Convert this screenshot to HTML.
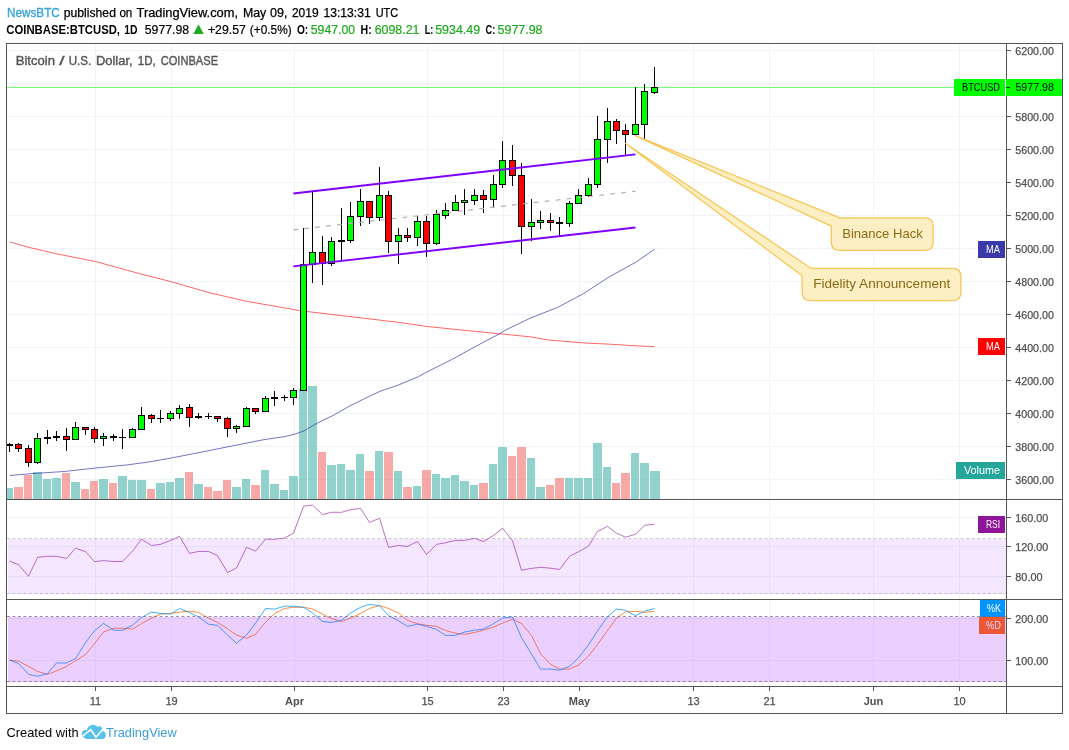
<!DOCTYPE html>
<html><head><meta charset="utf-8"><title>BTCUSD</title>
<style>html,body{margin:0;padding:0;background:#fff;}body{width:1069px;height:750px;overflow:hidden;}svg{display:block;will-change:transform;}text{font-family:"Liberation Sans", sans-serif;}</style>
</head><body>
<svg width="1069" height="750" viewBox="0 0 1069 750">
<rect x="0" y="0" width="1069" height="750" fill="#fff"/>
<g shape-rendering="crispEdges" stroke="#eff4f8" stroke-width="1">
<line x1="95.5" y1="44" x2="95.5" y2="686"/>
<line x1="171.5" y1="44" x2="171.5" y2="686"/>
<line x1="294.5" y1="44" x2="294.5" y2="686"/>
<line x1="427.5" y1="44" x2="427.5" y2="686"/>
<line x1="503.5" y1="44" x2="503.5" y2="686"/>
<line x1="579.5" y1="44" x2="579.5" y2="686"/>
<line x1="693.5" y1="44" x2="693.5" y2="686"/>
<line x1="769.5" y1="44" x2="769.5" y2="686"/>
<line x1="873.5" y1="44" x2="873.5" y2="686"/>
<line x1="959.5" y1="44" x2="959.5" y2="686"/>
<line x1="7" y1="50.5" x2="1006" y2="50.5"/>
<line x1="7" y1="83.5" x2="1006" y2="83.5"/>
<line x1="7" y1="116.5" x2="1006" y2="116.5"/>
<line x1="7" y1="149.5" x2="1006" y2="149.5"/>
<line x1="7" y1="182.5" x2="1006" y2="182.5"/>
<line x1="7" y1="215.5" x2="1006" y2="215.5"/>
<line x1="7" y1="248.5" x2="1006" y2="248.5"/>
<line x1="7" y1="281.5" x2="1006" y2="281.5"/>
<line x1="7" y1="314.5" x2="1006" y2="314.5"/>
<line x1="7" y1="347.5" x2="1006" y2="347.5"/>
<line x1="7" y1="380.5" x2="1006" y2="380.5"/>
<line x1="7" y1="413.5" x2="1006" y2="413.5"/>
<line x1="7" y1="446.5" x2="1006" y2="446.5"/>
<line x1="7" y1="479.5" x2="1006" y2="479.5"/>
<line x1="7" y1="517.5" x2="1006" y2="517.5"/>
<line x1="7" y1="546.5" x2="1006" y2="546.5"/>
<line x1="7" y1="576.5" x2="1006" y2="576.5"/>
<line x1="7" y1="618.5" x2="1006" y2="618.5"/>
<line x1="7" y1="660.5" x2="1006" y2="660.5"/>
</g>
<g shape-rendering="crispEdges">
<rect x="7" y="488" width="6" height="11" fill="#26a69a" fill-opacity="0.5"/>
<rect x="14" y="487" width="9" height="12" fill="#ef5350" fill-opacity="0.5"/>
<rect x="24" y="475" width="8" height="24" fill="#ef5350" fill-opacity="0.5"/>
<rect x="33" y="472" width="9" height="27" fill="#26a69a" fill-opacity="0.5"/>
<rect x="43" y="479" width="8" height="20" fill="#26a69a" fill-opacity="0.5"/>
<rect x="52" y="478" width="9" height="21" fill="#26a69a" fill-opacity="0.5"/>
<rect x="62" y="473" width="8" height="26" fill="#ef5350" fill-opacity="0.5"/>
<rect x="71" y="482" width="9" height="17" fill="#26a69a" fill-opacity="0.5"/>
<rect x="81" y="489" width="8" height="10" fill="#ef5350" fill-opacity="0.5"/>
<rect x="90" y="481" width="8" height="18" fill="#ef5350" fill-opacity="0.5"/>
<rect x="99" y="479" width="9" height="20" fill="#26a69a" fill-opacity="0.5"/>
<rect x="109" y="483" width="8" height="16" fill="#ef5350" fill-opacity="0.5"/>
<rect x="118" y="476" width="9" height="23" fill="#26a69a" fill-opacity="0.5"/>
<rect x="128" y="480" width="8" height="19" fill="#26a69a" fill-opacity="0.5"/>
<rect x="137" y="480" width="9" height="19" fill="#26a69a" fill-opacity="0.5"/>
<rect x="147" y="489" width="8" height="10" fill="#ef5350" fill-opacity="0.5"/>
<rect x="156" y="483" width="9" height="16" fill="#26a69a" fill-opacity="0.5"/>
<rect x="166" y="482" width="8" height="17" fill="#26a69a" fill-opacity="0.5"/>
<rect x="175" y="478" width="9" height="21" fill="#26a69a" fill-opacity="0.5"/>
<rect x="185" y="472" width="8" height="27" fill="#ef5350" fill-opacity="0.5"/>
<rect x="194" y="484" width="9" height="15" fill="#26a69a" fill-opacity="0.5"/>
<rect x="204" y="487" width="8" height="12" fill="#ef5350" fill-opacity="0.5"/>
<rect x="213" y="491" width="9" height="8" fill="#ef5350" fill-opacity="0.5"/>
<rect x="223" y="480" width="8" height="19" fill="#ef5350" fill-opacity="0.5"/>
<rect x="232" y="487" width="9" height="12" fill="#26a69a" fill-opacity="0.5"/>
<rect x="242" y="479" width="8" height="20" fill="#26a69a" fill-opacity="0.5"/>
<rect x="251" y="485" width="9" height="14" fill="#ef5350" fill-opacity="0.5"/>
<rect x="261" y="470" width="8" height="29" fill="#26a69a" fill-opacity="0.5"/>
<rect x="270" y="484" width="9" height="15" fill="#26a69a" fill-opacity="0.5"/>
<rect x="280" y="490" width="8" height="9" fill="#26a69a" fill-opacity="0.5"/>
<rect x="289" y="476" width="9" height="23" fill="#26a69a" fill-opacity="0.5"/>
<rect x="299" y="389" width="8" height="110" fill="#26a69a" fill-opacity="0.5"/>
<rect x="308" y="386" width="9" height="113" fill="#26a69a" fill-opacity="0.5"/>
<rect x="318" y="452" width="8" height="47" fill="#ef5350" fill-opacity="0.5"/>
<rect x="327" y="465" width="9" height="34" fill="#26a69a" fill-opacity="0.5"/>
<rect x="337" y="464" width="8" height="35" fill="#26a69a" fill-opacity="0.5"/>
<rect x="346" y="470" width="9" height="29" fill="#26a69a" fill-opacity="0.5"/>
<rect x="356" y="454" width="8" height="45" fill="#26a69a" fill-opacity="0.5"/>
<rect x="365" y="471" width="9" height="28" fill="#ef5350" fill-opacity="0.5"/>
<rect x="375" y="451" width="8" height="48" fill="#26a69a" fill-opacity="0.5"/>
<rect x="384" y="452" width="9" height="47" fill="#ef5350" fill-opacity="0.5"/>
<rect x="394" y="471" width="8" height="28" fill="#26a69a" fill-opacity="0.5"/>
<rect x="403" y="487" width="9" height="12" fill="#ef5350" fill-opacity="0.5"/>
<rect x="413" y="486" width="8" height="13" fill="#26a69a" fill-opacity="0.5"/>
<rect x="422" y="470" width="9" height="29" fill="#ef5350" fill-opacity="0.5"/>
<rect x="432" y="474" width="8" height="25" fill="#26a69a" fill-opacity="0.5"/>
<rect x="441" y="478" width="9" height="21" fill="#26a69a" fill-opacity="0.5"/>
<rect x="451" y="475" width="8" height="24" fill="#26a69a" fill-opacity="0.5"/>
<rect x="460" y="481" width="9" height="18" fill="#26a69a" fill-opacity="0.5"/>
<rect x="470" y="485" width="8" height="14" fill="#26a69a" fill-opacity="0.5"/>
<rect x="479" y="483" width="9" height="16" fill="#ef5350" fill-opacity="0.5"/>
<rect x="489" y="464" width="8" height="35" fill="#26a69a" fill-opacity="0.5"/>
<rect x="498" y="447" width="9" height="52" fill="#26a69a" fill-opacity="0.5"/>
<rect x="508" y="456" width="8" height="43" fill="#ef5350" fill-opacity="0.5"/>
<rect x="517" y="447" width="9" height="52" fill="#ef5350" fill-opacity="0.5"/>
<rect x="527" y="458" width="8" height="41" fill="#26a69a" fill-opacity="0.5"/>
<rect x="536" y="487" width="9" height="12" fill="#26a69a" fill-opacity="0.5"/>
<rect x="546" y="485" width="8" height="14" fill="#ef5350" fill-opacity="0.5"/>
<rect x="555" y="478" width="9" height="21" fill="#ef5350" fill-opacity="0.5"/>
<rect x="565" y="478" width="8" height="21" fill="#26a69a" fill-opacity="0.5"/>
<rect x="574" y="478" width="9" height="21" fill="#26a69a" fill-opacity="0.5"/>
<rect x="584" y="478" width="8" height="21" fill="#26a69a" fill-opacity="0.5"/>
<rect x="593" y="443" width="9" height="56" fill="#26a69a" fill-opacity="0.5"/>
<rect x="603" y="467" width="8" height="32" fill="#26a69a" fill-opacity="0.5"/>
<rect x="612" y="483" width="8" height="16" fill="#ef5350" fill-opacity="0.5"/>
<rect x="621" y="473" width="9" height="26" fill="#ef5350" fill-opacity="0.5"/>
<rect x="631" y="453" width="8" height="46" fill="#26a69a" fill-opacity="0.5"/>
<rect x="640" y="463" width="9" height="36" fill="#26a69a" fill-opacity="0.5"/>
<rect x="650" y="471" width="10" height="28" fill="#26a69a" fill-opacity="0.5"/>
</g>
<polyline fill="none" stroke="#ff0000" stroke-width="1" stroke-linejoin="round" stroke-opacity="0.6" points="9.8,241.9 28.0,247.2 56.1,253.7 95.4,261.5 140.3,273.9 171.2,281.7 210.5,293.0 247.0,301.4 275.0,306.2 300.0,310.7 400.0,322.5 426.2,326.4 452.4,329.1 478.6,331.7 499.5,333.8 531.0,336.9 549.3,340.1 583.3,342.9 609.5,344.2 635.7,345.8 654.6,346.6"/>
<polyline fill="none" stroke="#3939ab" stroke-width="1" stroke-linejoin="round" stroke-opacity="0.7" points="9.6,475.5 32.0,473.6 64.0,471.5 96.0,468.0 128.0,464.8 150.0,461.8 170.8,458.1 198.0,452.8 230.0,446.4 262.0,440.0 285.0,436.5 294.0,434.4 304.0,430.9 317.0,423.2 333.0,415.5 349.0,406.4 365.0,398.4 381.0,390.9 397.0,385.6 409.0,380.6 418.3,376.7 426.2,372.3 452.4,359.2 478.6,344.8 499.5,333.8 504.8,330.4 531.0,317.8 557.2,307.6 583.3,293.7 609.5,276.7 635.7,262.3 654.6,249.2"/>
<line x1="7" y1="87.5" x2="1006" y2="87.5" stroke="#00ff00" stroke-opacity="0.55" stroke-width="1" shape-rendering="crispEdges"/>
<g shape-rendering="crispEdges">
<rect x="9" y="443" width="1" height="9" fill="#000"/>
<rect x="7" y="444" width="6" height="2" fill="#000"/>
<rect x="18" y="443" width="1" height="9" fill="#000"/>
<rect x="15" y="444" width="7" height="5" fill="#000"/>
<rect x="16" y="445" width="5" height="3" fill="#ff0000"/>
<rect x="28" y="445" width="1" height="22" fill="#000"/>
<rect x="25" y="448" width="7" height="15" fill="#000"/>
<rect x="26" y="449" width="5" height="13" fill="#ff0000"/>
<rect x="37" y="433" width="1" height="31" fill="#000"/>
<rect x="34" y="438" width="7" height="25" fill="#000"/>
<rect x="35" y="439" width="5" height="23" fill="#00ff00"/>
<rect x="47" y="430" width="1" height="14" fill="#000"/>
<rect x="44" y="437" width="7" height="2" fill="#000"/>
<rect x="56" y="431" width="1" height="10" fill="#000"/>
<rect x="53" y="436" width="7" height="2" fill="#000"/>
<rect x="66" y="428" width="1" height="23" fill="#000"/>
<rect x="63" y="436" width="7" height="4" fill="#000"/>
<rect x="64" y="437" width="5" height="2" fill="#ff0000"/>
<rect x="75" y="422" width="1" height="18" fill="#000"/>
<rect x="72" y="427" width="7" height="13" fill="#000"/>
<rect x="73" y="428" width="5" height="11" fill="#00ff00"/>
<rect x="85" y="427" width="1" height="8" fill="#000"/>
<rect x="82" y="427" width="7" height="3" fill="#000"/>
<rect x="83" y="428" width="5" height="1" fill="#ff0000"/>
<rect x="94" y="427" width="1" height="16" fill="#000"/>
<rect x="91" y="429" width="7" height="10" fill="#000"/>
<rect x="92" y="430" width="5" height="8" fill="#ff0000"/>
<rect x="103" y="433" width="1" height="13" fill="#000"/>
<rect x="100" y="436" width="7" height="3" fill="#000"/>
<rect x="101" y="437" width="5" height="1" fill="#00ff00"/>
<rect x="113" y="434" width="1" height="7" fill="#000"/>
<rect x="110" y="436" width="7" height="2" fill="#000"/>
<rect x="122" y="429" width="1" height="20" fill="#000"/>
<rect x="119" y="437" width="7" height="1" fill="#000"/>
<rect x="132" y="428" width="1" height="10" fill="#000"/>
<rect x="129" y="429" width="7" height="9" fill="#000"/>
<rect x="130" y="430" width="5" height="7" fill="#00ff00"/>
<rect x="141" y="407" width="1" height="23" fill="#000"/>
<rect x="138" y="415" width="7" height="15" fill="#000"/>
<rect x="139" y="416" width="5" height="13" fill="#00ff00"/>
<rect x="151" y="414" width="1" height="9" fill="#000"/>
<rect x="148" y="415" width="7" height="4" fill="#000"/>
<rect x="149" y="416" width="5" height="2" fill="#ff0000"/>
<rect x="160" y="410" width="1" height="13" fill="#000"/>
<rect x="157" y="418" width="7" height="1" fill="#000"/>
<rect x="170" y="411" width="1" height="10" fill="#000"/>
<rect x="167" y="413" width="7" height="6" fill="#000"/>
<rect x="168" y="414" width="5" height="4" fill="#00ff00"/>
<rect x="179" y="405" width="1" height="14" fill="#000"/>
<rect x="176" y="408" width="7" height="6" fill="#000"/>
<rect x="177" y="409" width="5" height="4" fill="#00ff00"/>
<rect x="189" y="404" width="1" height="23" fill="#000"/>
<rect x="186" y="407" width="7" height="11" fill="#000"/>
<rect x="187" y="408" width="5" height="9" fill="#ff0000"/>
<rect x="198" y="413" width="1" height="6" fill="#000"/>
<rect x="195" y="416" width="7" height="2" fill="#000"/>
<rect x="208" y="413" width="1" height="6" fill="#000"/>
<rect x="205" y="416" width="7" height="1" fill="#000"/>
<rect x="217" y="416" width="1" height="6" fill="#000"/>
<rect x="214" y="416" width="7" height="3" fill="#000"/>
<rect x="215" y="417" width="5" height="1" fill="#ff0000"/>
<rect x="227" y="417" width="1" height="20" fill="#000"/>
<rect x="224" y="418" width="7" height="11" fill="#000"/>
<rect x="225" y="419" width="5" height="9" fill="#ff0000"/>
<rect x="236" y="425" width="1" height="8" fill="#000"/>
<rect x="233" y="426" width="7" height="3" fill="#000"/>
<rect x="234" y="427" width="5" height="1" fill="#00ff00"/>
<rect x="246" y="407" width="1" height="20" fill="#000"/>
<rect x="243" y="408" width="7" height="19" fill="#000"/>
<rect x="244" y="409" width="5" height="17" fill="#00ff00"/>
<rect x="255" y="408" width="1" height="6" fill="#000"/>
<rect x="252" y="408" width="7" height="4" fill="#000"/>
<rect x="253" y="409" width="5" height="2" fill="#ff0000"/>
<rect x="265" y="396" width="1" height="16" fill="#000"/>
<rect x="262" y="398" width="7" height="14" fill="#000"/>
<rect x="263" y="399" width="5" height="12" fill="#00ff00"/>
<rect x="274" y="391" width="1" height="15" fill="#000"/>
<rect x="271" y="397" width="7" height="2" fill="#000"/>
<rect x="284" y="395" width="1" height="6" fill="#000"/>
<rect x="281" y="397" width="7" height="1" fill="#000"/>
<rect x="293" y="388" width="1" height="17" fill="#000"/>
<rect x="290" y="390" width="7" height="8" fill="#000"/>
<rect x="291" y="391" width="5" height="6" fill="#00ff00"/>
<rect x="303" y="228" width="1" height="163" fill="#000"/>
<rect x="300" y="264" width="7" height="127" fill="#000"/>
<rect x="301" y="265" width="5" height="125" fill="#00ff00"/>
<rect x="312" y="192" width="1" height="91" fill="#000"/>
<rect x="309" y="252" width="7" height="13" fill="#000"/>
<rect x="310" y="253" width="5" height="11" fill="#00ff00"/>
<rect x="322" y="236" width="1" height="49" fill="#000"/>
<rect x="319" y="252" width="7" height="12" fill="#000"/>
<rect x="320" y="253" width="5" height="10" fill="#ff0000"/>
<rect x="331" y="237" width="1" height="29" fill="#000"/>
<rect x="328" y="241" width="7" height="23" fill="#000"/>
<rect x="329" y="242" width="5" height="21" fill="#00ff00"/>
<rect x="341" y="208" width="1" height="53" fill="#000"/>
<rect x="338" y="240" width="7" height="2" fill="#000"/>
<rect x="350" y="202" width="1" height="41" fill="#000"/>
<rect x="347" y="216" width="7" height="25" fill="#000"/>
<rect x="348" y="217" width="5" height="23" fill="#00ff00"/>
<rect x="360" y="189" width="1" height="37" fill="#000"/>
<rect x="357" y="201" width="7" height="16" fill="#000"/>
<rect x="358" y="202" width="5" height="14" fill="#00ff00"/>
<rect x="369" y="201" width="1" height="23" fill="#000"/>
<rect x="366" y="201" width="7" height="17" fill="#000"/>
<rect x="367" y="202" width="5" height="15" fill="#ff0000"/>
<rect x="379" y="167" width="1" height="54" fill="#000"/>
<rect x="376" y="195" width="7" height="23" fill="#000"/>
<rect x="377" y="196" width="5" height="21" fill="#00ff00"/>
<rect x="388" y="191" width="1" height="62" fill="#000"/>
<rect x="385" y="195" width="7" height="47" fill="#000"/>
<rect x="386" y="196" width="5" height="45" fill="#ff0000"/>
<rect x="398" y="228" width="1" height="36" fill="#000"/>
<rect x="395" y="235" width="7" height="7" fill="#000"/>
<rect x="396" y="236" width="5" height="5" fill="#00ff00"/>
<rect x="407" y="228" width="1" height="14" fill="#000"/>
<rect x="404" y="235" width="7" height="3" fill="#000"/>
<rect x="405" y="236" width="5" height="1" fill="#ff0000"/>
<rect x="417" y="216" width="1" height="30" fill="#000"/>
<rect x="414" y="221" width="7" height="17" fill="#000"/>
<rect x="415" y="222" width="5" height="15" fill="#00ff00"/>
<rect x="426" y="216" width="1" height="41" fill="#000"/>
<rect x="423" y="221" width="7" height="23" fill="#000"/>
<rect x="424" y="222" width="5" height="21" fill="#ff0000"/>
<rect x="436" y="210" width="1" height="35" fill="#000"/>
<rect x="433" y="214" width="7" height="30" fill="#000"/>
<rect x="434" y="215" width="5" height="28" fill="#00ff00"/>
<rect x="445" y="203" width="1" height="16" fill="#000"/>
<rect x="442" y="210" width="7" height="6" fill="#000"/>
<rect x="443" y="211" width="5" height="4" fill="#00ff00"/>
<rect x="455" y="195" width="1" height="16" fill="#000"/>
<rect x="452" y="202" width="7" height="9" fill="#000"/>
<rect x="453" y="203" width="5" height="7" fill="#00ff00"/>
<rect x="464" y="189" width="1" height="26" fill="#000"/>
<rect x="461" y="200" width="7" height="3" fill="#000"/>
<rect x="462" y="201" width="5" height="1" fill="#00ff00"/>
<rect x="474" y="189" width="1" height="16" fill="#000"/>
<rect x="471" y="195" width="7" height="6" fill="#000"/>
<rect x="472" y="196" width="5" height="4" fill="#00ff00"/>
<rect x="483" y="190" width="1" height="23" fill="#000"/>
<rect x="480" y="195" width="7" height="5" fill="#000"/>
<rect x="481" y="196" width="5" height="3" fill="#ff0000"/>
<rect x="493" y="175" width="1" height="32" fill="#000"/>
<rect x="490" y="184" width="7" height="16" fill="#000"/>
<rect x="491" y="185" width="5" height="14" fill="#00ff00"/>
<rect x="502" y="141" width="1" height="47" fill="#000"/>
<rect x="499" y="160" width="7" height="25" fill="#000"/>
<rect x="500" y="161" width="5" height="23" fill="#00ff00"/>
<rect x="512" y="145" width="1" height="41" fill="#000"/>
<rect x="509" y="160" width="7" height="16" fill="#000"/>
<rect x="510" y="161" width="5" height="14" fill="#ff0000"/>
<rect x="521" y="163" width="1" height="91" fill="#000"/>
<rect x="518" y="175" width="7" height="52" fill="#000"/>
<rect x="519" y="176" width="5" height="50" fill="#ff0000"/>
<rect x="531" y="199" width="1" height="42" fill="#000"/>
<rect x="528" y="222" width="7" height="5" fill="#000"/>
<rect x="529" y="223" width="5" height="3" fill="#00ff00"/>
<rect x="540" y="211" width="1" height="18" fill="#000"/>
<rect x="537" y="220" width="7" height="3" fill="#000"/>
<rect x="538" y="221" width="5" height="1" fill="#00ff00"/>
<rect x="550" y="213" width="1" height="18" fill="#000"/>
<rect x="547" y="220" width="7" height="3" fill="#000"/>
<rect x="548" y="221" width="5" height="1" fill="#ff0000"/>
<rect x="559" y="217" width="1" height="19" fill="#000"/>
<rect x="556" y="222" width="7" height="2" fill="#000"/>
<rect x="569" y="201" width="1" height="26" fill="#000"/>
<rect x="566" y="203" width="7" height="21" fill="#000"/>
<rect x="567" y="204" width="5" height="19" fill="#00ff00"/>
<rect x="578" y="189" width="1" height="15" fill="#000"/>
<rect x="575" y="195" width="7" height="9" fill="#000"/>
<rect x="576" y="196" width="5" height="7" fill="#00ff00"/>
<rect x="588" y="178" width="1" height="19" fill="#000"/>
<rect x="585" y="184" width="7" height="12" fill="#000"/>
<rect x="586" y="185" width="5" height="10" fill="#00ff00"/>
<rect x="597" y="116" width="1" height="72" fill="#000"/>
<rect x="594" y="139" width="7" height="46" fill="#000"/>
<rect x="595" y="140" width="5" height="44" fill="#00ff00"/>
<rect x="607" y="108" width="1" height="55" fill="#000"/>
<rect x="604" y="121" width="7" height="19" fill="#000"/>
<rect x="605" y="122" width="5" height="17" fill="#00ff00"/>
<rect x="616" y="119" width="1" height="25" fill="#000"/>
<rect x="613" y="121" width="7" height="10" fill="#000"/>
<rect x="614" y="122" width="5" height="8" fill="#ff0000"/>
<rect x="625" y="124" width="1" height="31" fill="#000"/>
<rect x="622" y="130" width="7" height="5" fill="#000"/>
<rect x="623" y="131" width="5" height="3" fill="#ff0000"/>
<rect x="635" y="87" width="1" height="48" fill="#000"/>
<rect x="632" y="124" width="7" height="11" fill="#000"/>
<rect x="633" y="125" width="5" height="9" fill="#00ff00"/>
<rect x="644" y="84" width="1" height="55" fill="#000"/>
<rect x="641" y="91" width="7" height="34" fill="#000"/>
<rect x="642" y="92" width="5" height="32" fill="#00ff00"/>
<rect x="654" y="67" width="1" height="27" fill="#000"/>
<rect x="651" y="87" width="7" height="6" fill="#000"/>
<rect x="652" y="88" width="5" height="4" fill="#00ff00"/>
</g>
<line x1="293.3" y1="229.9" x2="635.5" y2="191.2" stroke="#b0b0b0" stroke-width="1.2" stroke-dasharray="4.8,6.2"/>
<line x1="293.3" y1="193.5" x2="635.5" y2="154.4" stroke="#8000ff" stroke-width="1.9"/>
<line x1="293.3" y1="266.4" x2="635.5" y2="227.5" stroke="#8000ff" stroke-width="1.9"/>
<path d="M840,217.9 L925.1,217.9 Q933.1,217.9 933.1,225.9 L933.1,242.3 Q933.1,250.3 925.1,250.3 L839.3,250.3 Q831.3,250.3 831.3,242.3 L831.3,226.1 L635.2,135.6 Z" fill="#fdebb5" fill-opacity="0.8" stroke="#f6c555" stroke-width="1.25" stroke-linejoin="round"/><text x="842.2" y="237.6" font-size="13.5" fill="#8b6914" textLength="80.5" lengthAdjust="spacingAndGlyphs">Binance Hack</text>
<path d="M811,268.3 L952.9,268.3 Q960.9,268.3 960.9,276.3 L960.9,292.6 Q960.9,300.6 952.9,300.6 L810.1,300.6 Q802.1,300.6 802.1,292.6 L802.1,275.8 L625.6,143.6 Z" fill="#fdebb5" fill-opacity="0.8" stroke="#f6c555" stroke-width="1.25" stroke-linejoin="round"/><text x="813.2" y="287.8" font-size="13.5" fill="#8b6914" textLength="137.1" lengthAdjust="spacingAndGlyphs">Fidelity Announcement</text>
<polyline fill="none" stroke="#8e1599" stroke-width="1" stroke-linejoin="round" stroke-opacity="0.6" points="9.5,561.2 18.5,564.6 28.5,576.3 37.5,557.4 47.5,556.3 56.5,556.3 66.5,558.5 75.5,548.2 85.5,551.6 94.5,561.7 103.5,560.6 113.5,561.5 122.5,561.5 132.5,551.1 141.5,539.2 151.5,545.5 160.5,544.4 170.5,540.4 179.5,536.3 189.5,553.4 198.5,551.4 208.5,551.4 217.5,555.6 227.5,572.5 236.5,568.0 246.5,547.3 255.5,551.1 265.5,539.2 274.5,539.2 284.5,538.1 293.5,533.2 303.5,506.2 312.5,505.1 322.5,514.5 331.5,512.3 341.5,512.3 350.5,509.6 360.5,508.5 369.5,522.4 379.5,518.3 388.5,547.3 398.5,545.5 407.5,546.4 417.5,541.5 426.5,554.5 436.5,544.4 445.5,542.8 455.5,540.4 464.5,540.4 474.5,538.3 483.5,541.5 493.5,535.4 502.5,528.2 512.5,540.6 521.5,570.2 531.5,568.4 540.5,567.3 550.5,568.2 559.5,569.5 569.5,556.3 578.5,551.8 588.5,546.2 597.5,531.4 607.5,526.4 616.5,533.2 625.5,537.2 635.5,534.3 644.5,525.3 654.5,524.2"/>
<polyline fill="none" stroke="#ff6a00" stroke-width="1" stroke-linejoin="round" stroke-opacity="0.75" points="9.5,660.1 18.5,661.2 28.5,666.4 37.5,671.3 47.5,674.3 56.5,670.9 66.5,666.4 75.5,660.8 85.5,654.5 94.5,643.7 103.5,632.0 113.5,628.2 122.5,628.2 132.5,629.1 141.5,623.7 151.5,618.1 160.5,614.1 170.5,613.4 179.5,612.1 189.5,611.2 198.5,612.5 208.5,618.1 217.5,622.4 227.5,628.7 236.5,635.0 246.5,638.3 255.5,634.3 265.5,622.4 274.5,613.4 284.5,608.5 293.5,607.3 303.5,607.3 312.5,608.9 322.5,614.1 331.5,618.6 341.5,621.5 350.5,618.1 360.5,613.6 369.5,608.5 379.5,605.6 388.5,608.5 398.5,613.0 407.5,620.4 417.5,623.7 426.5,625.3 436.5,626.4 445.5,630.5 455.5,633.2 464.5,634.3 474.5,632.5 483.5,630.2 493.5,627.1 502.5,623.1 512.5,619.2 521.5,623.5 531.5,635.4 540.5,653.8 550.5,664.2 559.5,669.1 569.5,669.1 578.5,665.0 588.5,656.1 597.5,644.4 607.5,630.5 616.5,618.1 625.5,611.8 635.5,611.4 644.5,612.3 654.5,611.2"/>
<polyline fill="none" stroke="#0094ff" stroke-width="1" stroke-linejoin="round" stroke-opacity="0.75" points="9.5,660.1 18.5,663.5 28.5,674.3 37.5,676.3 47.5,673.6 56.5,663.0 66.5,663.0 75.5,658.5 85.5,642.6 94.5,630.9 103.5,623.3 113.5,630.2 122.5,630.2 132.5,625.3 141.5,617.5 151.5,612.1 160.5,613.4 170.5,614.1 179.5,608.5 189.5,612.5 198.5,616.8 208.5,624.2 217.5,625.3 227.5,635.0 236.5,643.3 246.5,635.0 255.5,623.1 265.5,608.5 274.5,609.1 284.5,606.2 293.5,606.2 303.5,607.3 312.5,613.0 322.5,621.5 331.5,622.4 341.5,620.4 350.5,613.0 360.5,607.3 369.5,604.4 379.5,605.6 388.5,615.7 398.5,620.8 407.5,626.4 417.5,624.2 426.5,626.4 436.5,629.4 445.5,635.4 455.5,635.4 464.5,632.0 474.5,630.2 483.5,629.1 493.5,623.7 502.5,618.1 512.5,617.0 521.5,637.7 531.5,654.0 540.5,669.1 550.5,669.1 559.5,670.2 569.5,666.4 578.5,657.9 588.5,644.8 597.5,630.9 607.5,616.8 616.5,609.1 625.5,610.3 635.5,615.7 644.5,611.2 654.5,608.5"/>
<rect x="954" y="79" width="51" height="17" fill="#00ff00" shape-rendering="crispEdges"/><text x="962" y="90.9" font-size="11" fill="#000" textLength="38" lengthAdjust="spacingAndGlyphs">BTCUSD</text>
<rect x="978" y="241" width="27" height="17" fill="#3939ab" shape-rendering="crispEdges"/><text x="986" y="252.9" font-size="11" fill="#fff" textLength="14" lengthAdjust="spacingAndGlyphs">MA</text>
<rect x="978" y="338" width="27" height="17" fill="#ff0000" shape-rendering="crispEdges"/><text x="986" y="349.9" font-size="11" fill="#fff" textLength="14" lengthAdjust="spacingAndGlyphs">MA</text>
<rect x="956" y="462" width="49" height="17" fill="#26a69a" shape-rendering="crispEdges"/><text x="964" y="473.9" font-size="11" fill="#fff" textLength="36" lengthAdjust="spacingAndGlyphs">Volume</text>
<rect x="978" y="516" width="27" height="17" fill="#8e1599" shape-rendering="crispEdges"/><text x="986" y="527.9" font-size="11" fill="#fff" textLength="14" lengthAdjust="spacingAndGlyphs">RSI</text>
<rect x="980" y="600" width="25" height="17" fill="#0094ff" shape-rendering="crispEdges"/><text x="987" y="611.9" font-size="11" fill="#fff" textLength="14" lengthAdjust="spacingAndGlyphs">%K</text>
<rect x="979" y="617" width="26" height="17" fill="#ff6a00" shape-rendering="crispEdges"/><text x="986" y="628.9" font-size="11" fill="#fff" textLength="15" lengthAdjust="spacingAndGlyphs">%D</text>
<rect x="7.5" y="539" width="998" height="55" fill="#9915ff" fill-opacity="0.1" shape-rendering="crispEdges"/>
<g stroke="#808080" stroke-opacity="0.4" stroke-width="1" stroke-dasharray="3,2.45">
<line x1="7" y1="538.5" x2="1006" y2="538.5"/><line x1="7" y1="593.5" x2="1006" y2="593.5"/>
</g>
<rect x="7.5" y="617" width="998" height="65" fill="#9915ff" fill-opacity="0.2" shape-rendering="crispEdges"/>
<g stroke="#7a6886" stroke-opacity="0.75" stroke-width="1" stroke-dasharray="3,2.45">
<line x1="7" y1="616.5" x2="1006" y2="616.5"/><line x1="7" y1="681.5" x2="1006" y2="681.5"/>
</g>
<g shape-rendering="crispEdges" stroke="#555555" stroke-width="1" fill="none">
<rect x="6.5" y="43.5" width="1056" height="670"/>
<line x1="1006.5" y1="44" x2="1006.5" y2="713"/>
<line x1="7" y1="499.5" x2="1062" y2="499.5"/>
<line x1="7" y1="599.5" x2="1062" y2="599.5"/>
<line x1="7" y1="686.5" x2="1062" y2="686.5"/>
<line x1="1007" y1="50.5" x2="1011" y2="50.5"/>
<line x1="1007" y1="116.5" x2="1011" y2="116.5"/>
<line x1="1007" y1="149.5" x2="1011" y2="149.5"/>
<line x1="1007" y1="182.5" x2="1011" y2="182.5"/>
<line x1="1007" y1="215.5" x2="1011" y2="215.5"/>
<line x1="1007" y1="248.5" x2="1011" y2="248.5"/>
<line x1="1007" y1="281.5" x2="1011" y2="281.5"/>
<line x1="1007" y1="314.5" x2="1011" y2="314.5"/>
<line x1="1007" y1="347.5" x2="1011" y2="347.5"/>
<line x1="1007" y1="380.5" x2="1011" y2="380.5"/>
<line x1="1007" y1="413.5" x2="1011" y2="413.5"/>
<line x1="1007" y1="446.5" x2="1011" y2="446.5"/>
<line x1="1007" y1="479.5" x2="1011" y2="479.5"/>
<line x1="1007" y1="87.5" x2="1011" y2="87.5"/>
<line x1="1007" y1="517.5" x2="1011" y2="517.5"/>
<line x1="1007" y1="546.5" x2="1011" y2="546.5"/>
<line x1="1007" y1="576.5" x2="1011" y2="576.5"/>
<line x1="1007" y1="618.5" x2="1011" y2="618.5"/>
<line x1="1007" y1="660.5" x2="1011" y2="660.5"/>
<line x1="95.5" y1="687" x2="95.5" y2="691"/>
<line x1="171.5" y1="687" x2="171.5" y2="691"/>
<line x1="294.5" y1="687" x2="294.5" y2="691"/>
<line x1="427.5" y1="687" x2="427.5" y2="691"/>
<line x1="503.5" y1="687" x2="503.5" y2="691"/>
<line x1="579.5" y1="687" x2="579.5" y2="691"/>
<line x1="693.5" y1="687" x2="693.5" y2="691"/>
<line x1="769.5" y1="687" x2="769.5" y2="691"/>
<line x1="873.5" y1="687" x2="873.5" y2="691"/>
<line x1="959.5" y1="687" x2="959.5" y2="691"/>
</g>
<rect x="1006" y="79" width="56" height="17" fill="#00ff00" shape-rendering="crispEdges"/>
<line x1="1006" y1="87.5" x2="1010" y2="87.5" stroke="#333" shape-rendering="crispEdges"/>
<text x="1015.4" y="90.9" font-size="11" fill="#000" textLength="38.6" lengthAdjust="spacingAndGlyphs">5977.98</text>
<text x="1015.3" y="54.5" font-size="11" fill="#505050" stroke="#505050" stroke-width="0.25" textLength="38.6" lengthAdjust="spacingAndGlyphs">6200.00</text>
<text x="1015.3" y="120.5" font-size="11" fill="#505050" stroke="#505050" stroke-width="0.25" textLength="38.6" lengthAdjust="spacingAndGlyphs">5800.00</text>
<text x="1015.3" y="153.5" font-size="11" fill="#505050" stroke="#505050" stroke-width="0.25" textLength="38.6" lengthAdjust="spacingAndGlyphs">5600.00</text>
<text x="1015.3" y="186.5" font-size="11" fill="#505050" stroke="#505050" stroke-width="0.25" textLength="38.6" lengthAdjust="spacingAndGlyphs">5400.00</text>
<text x="1015.3" y="219.5" font-size="11" fill="#505050" stroke="#505050" stroke-width="0.25" textLength="38.6" lengthAdjust="spacingAndGlyphs">5200.00</text>
<text x="1015.3" y="252.5" font-size="11" fill="#505050" stroke="#505050" stroke-width="0.25" textLength="38.6" lengthAdjust="spacingAndGlyphs">5000.00</text>
<text x="1015.3" y="285.5" font-size="11" fill="#505050" stroke="#505050" stroke-width="0.25" textLength="38.6" lengthAdjust="spacingAndGlyphs">4800.00</text>
<text x="1015.3" y="318.5" font-size="11" fill="#505050" stroke="#505050" stroke-width="0.25" textLength="38.6" lengthAdjust="spacingAndGlyphs">4600.00</text>
<text x="1015.3" y="351.5" font-size="11" fill="#505050" stroke="#505050" stroke-width="0.25" textLength="38.6" lengthAdjust="spacingAndGlyphs">4400.00</text>
<text x="1015.3" y="384.5" font-size="11" fill="#505050" stroke="#505050" stroke-width="0.25" textLength="38.6" lengthAdjust="spacingAndGlyphs">4200.00</text>
<text x="1015.3" y="417.5" font-size="11" fill="#505050" stroke="#505050" stroke-width="0.25" textLength="38.6" lengthAdjust="spacingAndGlyphs">4000.00</text>
<text x="1015.3" y="450.5" font-size="11" fill="#505050" stroke="#505050" stroke-width="0.25" textLength="38.6" lengthAdjust="spacingAndGlyphs">3800.00</text>
<text x="1015.3" y="483.5" font-size="11" fill="#505050" stroke="#505050" stroke-width="0.25" textLength="38.6" lengthAdjust="spacingAndGlyphs">3600.00</text>
<text x="1015.3" y="521.5" font-size="11" fill="#505050" stroke="#505050" stroke-width="0.25" textLength="33" lengthAdjust="spacingAndGlyphs">160.00</text>
<text x="1015.3" y="550.5" font-size="11" fill="#505050" stroke="#505050" stroke-width="0.25" textLength="33" lengthAdjust="spacingAndGlyphs">120.00</text>
<text x="1015.3" y="580.5" font-size="11" fill="#505050" stroke="#505050" stroke-width="0.25" textLength="27.3" lengthAdjust="spacingAndGlyphs">80.00</text>
<text x="1015.3" y="622.5" font-size="11" fill="#505050" stroke="#505050" stroke-width="0.25" textLength="33" lengthAdjust="spacingAndGlyphs">200.00</text>
<text x="1015.3" y="664.5" font-size="11" fill="#505050" stroke="#505050" stroke-width="0.25" textLength="33" lengthAdjust="spacingAndGlyphs">100.00</text>
<text x="95.5" y="705" font-size="11" fill="#505050" text-anchor="middle" stroke="#505050" stroke-width="0.25">11</text>
<text x="171.5" y="705" font-size="11" fill="#505050" text-anchor="middle" stroke="#505050" stroke-width="0.25">19</text>
<text x="294.5" y="705" font-size="11" fill="#505050" text-anchor="middle" font-weight="bold">Apr</text>
<text x="427.5" y="705" font-size="11" fill="#505050" text-anchor="middle" stroke="#505050" stroke-width="0.25">15</text>
<text x="503.5" y="705" font-size="11" fill="#505050" text-anchor="middle" stroke="#505050" stroke-width="0.25">23</text>
<text x="579.5" y="705" font-size="11" fill="#505050" text-anchor="middle" font-weight="bold">May</text>
<text x="693.5" y="705" font-size="11" fill="#505050" text-anchor="middle" stroke="#505050" stroke-width="0.25">13</text>
<text x="769.5" y="705" font-size="11" fill="#505050" text-anchor="middle" stroke="#505050" stroke-width="0.25">21</text>
<text x="873.5" y="705" font-size="11" fill="#505050" text-anchor="middle" font-weight="bold">Jun</text>
<text x="959.5" y="705" font-size="11" fill="#505050" text-anchor="middle" stroke="#505050" stroke-width="0.25">10</text>
<text x="15.7" y="65" font-size="13" fill="#555" stroke="#555" stroke-width="0.4" textLength="39.3" lengthAdjust="spacingAndGlyphs">Bitcoin</text>
<text x="59.2" y="65" font-size="13" fill="#555" stroke="#555" stroke-width="0.4" textLength="5.3" lengthAdjust="spacingAndGlyphs">/</text>
<text x="68.7" y="65" font-size="13" fill="#555" stroke="#555" stroke-width="0.4" textLength="22.6" lengthAdjust="spacingAndGlyphs">U.S.</text>
<text x="95.9" y="65" font-size="13" fill="#555" stroke="#555" stroke-width="0.4" textLength="36.7" lengthAdjust="spacingAndGlyphs">Dollar,</text>
<text x="137.8" y="65" font-size="13" fill="#555" stroke="#555" stroke-width="0.4" textLength="17.9" lengthAdjust="spacingAndGlyphs">1D,</text>
<text x="160.7" y="65" font-size="13" fill="#555" stroke="#555" stroke-width="0.4" textLength="57.4" lengthAdjust="spacingAndGlyphs">COINBASE</text>
<text x="7" y="17.3" font-size="12" fill="#2fa3dc" stroke="#2fa3dc" stroke-width="0.3" textLength="52.8" lengthAdjust="spacingAndGlyphs">NewsBTC</text>
<text x="63.8" y="17.3" font-size="12" fill="#000" stroke="#000" stroke-width="0.25" textLength="52.1" lengthAdjust="spacingAndGlyphs">published</text>
<text x="119.4" y="17.3" font-size="12" fill="#000" stroke="#000" stroke-width="0.25" textLength="12.9" lengthAdjust="spacingAndGlyphs">on</text>
<text x="136.5" y="17.3" font-size="12" fill="#000" stroke="#000" stroke-width="0.25" textLength="101.5" lengthAdjust="spacingAndGlyphs">TradingView.com,</text>
<text x="242.9" y="17.3" font-size="12" fill="#000" stroke="#000" stroke-width="0.25" textLength="23.3" lengthAdjust="spacingAndGlyphs">May</text>
<text x="270.1" y="17.3" font-size="12" fill="#000" stroke="#000" stroke-width="0.25" textLength="17.4" lengthAdjust="spacingAndGlyphs">09,</text>
<text x="291.9" y="17.3" font-size="12" fill="#000" stroke="#000" stroke-width="0.25" textLength="26.7" lengthAdjust="spacingAndGlyphs">2019</text>
<text x="323.5" y="17.3" font-size="12" fill="#000" stroke="#000" stroke-width="0.25" textLength="47.2" lengthAdjust="spacingAndGlyphs">13:13:31</text>
<text x="375.7" y="17.3" font-size="12" fill="#000" stroke="#000" stroke-width="0.25" textLength="22.5" lengthAdjust="spacingAndGlyphs">UTC</text>
<text x="6.3" y="34" font-size="12" fill="#000" font-weight="bold" textLength="113.7" lengthAdjust="spacingAndGlyphs">COINBASE:BTCUSD,</text>
<text x="124.2" y="34" font-size="12" fill="#000" font-weight="bold" textLength="13.3" lengthAdjust="spacingAndGlyphs">1D</text>
<text x="144.8" y="34" font-size="12" fill="#000" stroke="#000" stroke-width="0.2" textLength="44.3" lengthAdjust="spacingAndGlyphs">5977.98</text>
<path d="M193.3,34 L203.8,34 L198.55,24.5 Z" fill="#1eaa1e"/>
<text x="207.9" y="34" font-size="12" fill="#000" stroke="#000" stroke-width="0.2" textLength="37.9" lengthAdjust="spacingAndGlyphs">+29.57</text>
<text x="249.8" y="34" font-size="12" fill="#000" stroke="#000" stroke-width="0.2" textLength="41.9" lengthAdjust="spacingAndGlyphs">(+0.5%)</text>
<text x="296.9" y="34" font-size="12" fill="#000" font-weight="bold" textLength="11.3" lengthAdjust="spacingAndGlyphs">O:</text>
<text x="310.8" y="34" font-size="12" fill="#1eaa1e" stroke="#1eaa1e" stroke-width="0.2" textLength="44.2" lengthAdjust="spacingAndGlyphs">5947.00</text>
<text x="360.6" y="34" font-size="12" fill="#000" font-weight="bold" textLength="11.2" lengthAdjust="spacingAndGlyphs">H:</text>
<text x="374.7" y="34" font-size="12" fill="#1eaa1e" stroke="#1eaa1e" stroke-width="0.2" textLength="44.8" lengthAdjust="spacingAndGlyphs">6098.21</text>
<text x="424.7" y="34" font-size="12" fill="#000" font-weight="bold" textLength="8.5" lengthAdjust="spacingAndGlyphs">L:</text>
<text x="435.2" y="34" font-size="12" fill="#1eaa1e" stroke="#1eaa1e" stroke-width="0.2" textLength="44.9" lengthAdjust="spacingAndGlyphs">5934.49</text>
<text x="485.6" y="34" font-size="12" fill="#000" font-weight="bold" textLength="9.8" lengthAdjust="spacingAndGlyphs">C:</text>
<text x="497.6" y="34" font-size="12" fill="#1eaa1e" stroke="#1eaa1e" stroke-width="0.2" textLength="44.9" lengthAdjust="spacingAndGlyphs">5977.98</text>
<text x="6.5" y="737" font-size="13" fill="#000" textLength="72.1" lengthAdjust="spacingAndGlyphs">Created with</text>
<g fill="#57c1e8">
<circle cx="92.9" cy="730.7" r="5.9"/><circle cx="85.7" cy="734.0" r="3.9"/><circle cx="101.9" cy="735" r="3.9"/><circle cx="99.2" cy="729.4" r="3.1"/>
<rect x="85.5" y="733" width="16.5" height="6"/>
</g>
<polyline points="82.2,736.5 90.6,729.7 96,737.2 103.2,729.0" fill="none" stroke="#fff" stroke-width="1.6" stroke-linejoin="miter"/>
<text x="106" y="737" font-size="13" fill="#3a9ed9" textLength="70.8" lengthAdjust="spacingAndGlyphs">TradingView</text>
</svg>
</body></html>
